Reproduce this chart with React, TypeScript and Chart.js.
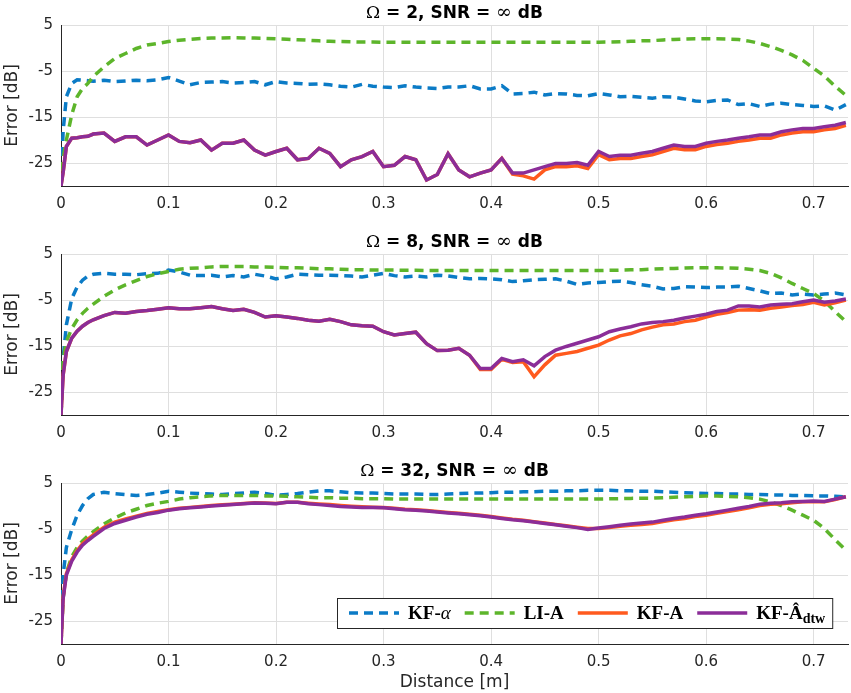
import { useEffect, useRef } from "react";
import { Chart, registerables } from "chart.js";

Chart.register(...registerables);

// distance along the path [m]
const distance = [
  0, 0.002, 0.005, 0.01, 0.015, 0.02, 0.025, 0.03, 0.04, 0.05,
  0.06, 0.07, 0.08, 0.09, 0.1, 0.11, 0.12, 0.13, 0.14, 0.15,
  0.16, 0.17, 0.18, 0.19, 0.2, 0.21, 0.22, 0.23, 0.24, 0.25,
  0.26, 0.27, 0.28, 0.29, 0.3, 0.31, 0.32, 0.33, 0.34, 0.35,
  0.36, 0.37, 0.38, 0.39, 0.4, 0.41, 0.42, 0.43, 0.44, 0.45,
  0.46, 0.47, 0.48, 0.49, 0.5, 0.51, 0.52, 0.53, 0.54, 0.55,
  0.56, 0.57, 0.58, 0.59, 0.6, 0.61, 0.62, 0.63, 0.64, 0.65,
  0.66, 0.67, 0.68, 0.69, 0.7, 0.71, 0.72, 0.73
];

const xTicks = [0, 0.1, 0.2, 0.3, 0.4, 0.5, 0.6, 0.7];
const yTicks = [-25, -15, -5, 5];

// Omega = 2
const kfAlpha2 = [
  -30, -18, -10.6, -7.7, -6.9, -7.0, -7.1, -7.2, -7.0, -7.3,
  -7.2, -7.0, -7.1, -6.9, -6.4, -7.2, -8.0, -7.5, -7.4, -7.3,
  -7.6, -7.5, -7.3, -8.0, -7.3, -7.6, -7.7, -7.9, -7.8, -8.0,
  -8.3, -8.5, -7.9, -8.3, -8.5, -8.6, -8.2, -8.5, -8.7, -8.8,
  -8.5, -8.5, -8.2, -8.9, -8.9, -8.2, -10.0, -9.9, -9.6, -10.2,
  -9.9, -10.0, -10.3, -10.4, -9.9, -10.2, -10.6, -10.5, -10.7, -10.9,
  -10.6, -10.7, -11.1, -11.5, -11.7, -11.4, -11.3, -12.3, -12.1, -12.7,
  -12.2, -12.0, -12.3, -12.5, -12.7, -12.6, -13.5, -12.3
];
const liA2 = [
  -30, -24, -20, -14.5, -10.6, -8.8, -7.7, -6.2, -4.1, -2.3,
  -1.2, -0.1, 0.65, 1.0, 1.4, 1.7, 1.9, 2.05, 2.15, 2.2,
  2.25, 2.2, 2.15, 2.1, 2.0, 1.9, 1.8, 1.7, 1.55, 1.45,
  1.4, 1.35, 1.3, 1.3, 1.25, 1.25, 1.25, 1.25, 1.25, 1.25,
  1.25, 1.25, 1.25, 1.25, 1.25, 1.25, 1.25, 1.25, 1.25, 1.25,
  1.25, 1.25, 1.25, 1.25, 1.25, 1.3, 1.35, 1.45, 1.55, 1.6,
  1.75, 1.85, 1.95, 2.0, 2.0, 2.0, 1.95, 1.85, 1.5, 1.0,
  0.3, -0.5, -1.5, -2.7, -4.4, -6.1, -8.3, -10.3
];
const kfA2 = [
  -30, -27, -21.4, -19.6, -19.5, -19.3, -19.2, -18.7, -18.5, -20.3,
  -19.3, -19.3, -21.1, -20.0, -18.9, -20.3, -20.6, -20.0, -22.2, -20.7,
  -20.7, -20.0, -22.2, -23.3, -22.5, -21.8, -24.3, -24.0, -21.8, -22.9,
  -25.8, -24.3, -23.6, -22.5, -25.8, -25.5, -23.6, -24.3, -28.7, -27.5,
  -23.0, -26.5, -28.0, -27.2, -26.5, -24.0, -27.4, -27.8, -28.5, -26.5,
  -25.8, -25.8, -25.6, -26.2, -23.2, -24.3, -24.0, -24.0, -23.6, -23.2,
  -22.5, -21.8, -22.1, -22.1, -21.4, -21.0, -20.7, -20.3, -20.0, -19.6,
  -19.6, -18.9, -18.5, -18.2, -18.2, -17.8, -17.5, -16.8
];
const kfAdtw2 = [
  -30, -27, -21.4, -19.6, -19.5, -19.3, -19.2, -18.7, -18.5, -20.3,
  -19.3, -19.3, -21.1, -20.0, -18.9, -20.3, -20.6, -20.0, -22.2, -20.7,
  -20.7, -20.0, -22.2, -23.3, -22.5, -21.8, -24.3, -24.0, -21.8, -22.9,
  -25.8, -24.3, -23.6, -22.5, -25.8, -25.5, -23.6, -24.3, -28.7, -27.5,
  -23.0, -26.5, -28.0, -27.2, -26.5, -24.0, -27.2, -27.2, -26.5, -25.8,
  -25.1, -25.1, -24.9, -25.5, -22.5, -23.6, -23.3, -23.3, -22.9, -22.5,
  -21.8, -21.1, -21.4, -21.4, -20.7, -20.3, -20.0, -19.6, -19.3, -18.9,
  -18.9, -18.2, -17.8, -17.5, -17.5, -17.1, -16.8, -16.2
];

// Omega = 8
const kfAlpha8 = [
  -30, -17.7, -10.4, -4.7, -2.2, -0.7, 0.2, 0.6, 0.8, 0.6,
  0.6, 0.5, 0.7, 0.8, 1.5, 1.1, 0.4, 0.3, 0.4, 0.0,
  0.3, 0.0, 0.6, 0.2, -0.4, 0.0, 0.6, 0.5, 0.4, 0.4,
  0.3, 0.2, 0.0, 0.4, 0.8, 0.3, 0.0, 0.2, 0.0, 0.4,
  0.2, -0.1, -0.4, -0.3, -0.4, -0.6, -1.0, -0.8, -0.6, -0.5,
  -0.4, -0.9, -1.6, -1.3, -1.2, -1.0, -0.9, -1.2, -1.7, -2.0,
  -2.6, -2.5, -2.1, -2.2, -2.3, -2.2, -2.2, -2.0, -2.5, -3.0,
  -3.6, -3.5, -3.9, -3.7, -3.9, -3.7, -3.5, -3.9
];
const liA8 = [
  -30, -18, -14.0, -11.2, -9.3, -7.9, -6.8, -5.9, -4.2, -2.8,
  -1.7, -0.8, 0.1, 0.7, 1.2, 1.7, 1.9, 2.0, 2.2, 2.3,
  2.3, 2.3, 2.2, 2.2, 2.1, 2.0, 2.0, 1.9, 1.8, 1.8,
  1.7, 1.6, 1.6, 1.5, 1.5, 1.5, 1.45, 1.45, 1.4, 1.4,
  1.4, 1.4, 1.4, 1.4, 1.4, 1.4, 1.4, 1.4, 1.4, 1.4,
  1.4, 1.4, 1.4, 1.4, 1.4, 1.45, 1.5, 1.55, 1.6, 1.7,
  1.8, 1.85, 1.95, 2.0, 2.0, 2.0, 1.95, 1.9, 1.7, 1.4,
  0.8, -0.2, -1.4, -2.5, -3.6, -5.2, -7.5, -9.7
];
const kfA8 = [
  -30, -21.3, -16.2, -13.3, -11.8, -10.7, -9.9, -9.3, -8.4, -7.7,
  -7.9, -7.5, -7.3, -7.0, -6.7, -6.9, -6.9, -6.7, -6.4, -6.9,
  -7.3, -7.0, -7.7, -8.7, -8.4, -8.7, -9.0, -9.4, -9.6, -9.2,
  -9.7, -10.4, -10.6, -10.7, -11.9, -12.6, -12.3, -12.0, -14.5, -16.0,
  -15.9, -15.5, -17.0, -20.1, -20.1, -17.9, -18.6, -18.4, -21.7, -19.1,
  -17.0, -16.6, -16.2, -15.5, -14.8, -13.7, -12.8, -12.3, -11.5, -10.9,
  -10.4, -10.2, -9.7, -9.4, -8.7, -8.1, -7.7, -7.2, -7.1, -7.2,
  -6.8, -6.5, -6.2, -6.0, -5.5, -6.1, -5.6, -5.0
];
const kfAdtw8 = [
  -30, -21.3, -16.2, -13.3, -11.8, -10.7, -9.9, -9.3, -8.4, -7.7,
  -7.9, -7.5, -7.3, -7.0, -6.7, -6.9, -6.9, -6.7, -6.4, -6.9,
  -7.3, -7.0, -7.7, -8.7, -8.4, -8.7, -9.0, -9.4, -9.6, -9.2,
  -9.7, -10.4, -10.6, -10.7, -11.9, -12.6, -12.3, -12.0, -14.5, -16.0,
  -15.9, -15.5, -17.0, -19.9, -19.9, -17.7, -18.4, -18.0, -19.3, -17.3,
  -15.9, -15.1, -14.4, -13.7, -13.0, -11.9, -11.3, -10.8, -10.2, -9.9,
  -9.7, -9.4, -8.9, -8.5, -8.1, -7.5, -7.2, -6.3, -6.3, -6.5,
  -6.1, -5.9, -5.8, -5.4, -5.0, -5.5, -5.2, -4.8
];

// Omega = 32
const kfAlpha32 = [
  -30, -15, -9.0, -5.1, -2.0, 0.1, 1.6, 2.5, 3.0, 2.7,
  2.5, 2.3, 2.5, 2.8, 3.2, 3.0, 2.8, 2.7, 2.6, 2.5,
  2.7, 2.8, 3.0, 2.7, 2.3, 2.5, 2.7, 3.0, 3.3, 3.3,
  3.1, 2.9, 2.8, 2.8, 2.7, 2.6, 2.6, 2.6, 2.5, 2.5,
  2.6, 2.7, 2.8, 2.8, 2.9, 3.0, 3.0, 3.1, 3.1, 3.2,
  3.2, 3.3, 3.3, 3.4, 3.4, 3.4, 3.3, 3.3, 3.2, 3.2,
  3.1, 3.0, 2.9, 2.8, 2.7, 2.7, 2.6, 2.6, 2.5, 2.5,
  2.4, 2.4, 2.3, 2.3, 2.2, 2.2, 2.1, 2.0
];
const liA32 = [
  -30, -20, -14.5, -11.0, -9.0, -7.6, -6.5, -5.6, -3.9, -2.6,
  -1.5, -0.7, 0.1, 0.6, 1.0, 1.5, 1.8, 2.0, 2.2, 2.3,
  2.3, 2.3, 2.3, 2.2, 2.2, 2.1, 2.0, 1.9, 1.8, 1.8,
  1.7, 1.7, 1.6, 1.6, 1.6, 1.5, 1.5, 1.5, 1.5, 1.5,
  1.5, 1.5, 1.5, 1.5, 1.5, 1.5, 1.5, 1.5, 1.5, 1.5,
  1.5, 1.5, 1.5, 1.5, 1.5, 1.55, 1.6, 1.65, 1.7, 1.7,
  1.8, 1.9, 2.0, 2.1, 2.2, 2.2, 2.1, 2.0, 1.8, 1.5,
  0.9, 0.1, -0.9, -2.0, -3.1, -4.9, -7.3, -9.6
];
const kfA32 = [
  -30, -19.8, -14.7, -11.7, -9.7, -8.2, -7.2, -6.3, -4.6, -3.5,
  -2.8, -2.2, -1.6, -1.2, -0.8, -0.5, -0.3, -0.1, 0.1, 0.25,
  0.4, 0.55, 0.7, 0.65, 0.55, 0.8, 0.8, 0.6, 0.45, 0.3,
  0.1, -0.05, -0.15, -0.25, -0.3, -0.5, -0.7, -0.8, -1.0, -1.2,
  -1.4, -1.6, -1.8, -2.0, -2.3, -2.6, -2.9, -3.1, -3.4, -3.7,
  -4.0, -4.3, -4.6, -4.9, -4.9, -4.7, -4.4, -4.2, -4.0, -3.8,
  -3.4, -3.0, -2.7, -2.3, -2.0, -1.6, -1.2, -0.8, -0.4, 0.1,
  0.4, 0.5, 0.7, 0.9, 0.9, 0.9, 1.4, 2.0
];
const kfAdtw32 = [
  -30, -20.1, -15.0, -12.0, -10.0, -8.5, -7.5, -6.6, -4.9, -3.8,
  -3.1, -2.4, -1.8, -1.4, -0.9, -0.6, -0.4, -0.2, 0.0, 0.15,
  0.35, 0.5, 0.65, 0.6, 0.5, 0.8, 0.8, 0.5, 0.3, 0.1,
  -0.1, -0.2, -0.3, -0.35, -0.4, -0.6, -0.8, -0.9, -1.1, -1.3,
  -1.5, -1.7, -1.9, -2.1, -2.4, -2.7, -3.0, -3.2, -3.5, -3.8,
  -4.1, -4.4, -4.7, -5.1, -4.8, -4.5, -4.2, -3.9, -3.7, -3.5,
  -3.1, -2.7, -2.4, -2.0, -1.7, -1.3, -0.9, -0.5, -0.1, 0.4,
  0.6, 0.7, 0.9, 1.0, 1.1, 1.0, 1.5, 2.0
];

const seriesNames = ["KF-α", "LI-A", "KF-A", "KF-Âdtw"];
const seriesColors = ["#0B7BC6", "#5DB52B", "#FF5A1E", "#8B2D98"];
const seriesDashed = [true, true, false, false];

// legend label pieces (LaTeX-like)
const legendParts = [
  [{ t: "KF-", f: "bold 19px 'Liberation Serif'", dy: 0 }, { t: "α", f: "italic 19px 'Liberation Serif'", dy: 0 }],
  [{ t: "LI-A", f: "bold 19px 'Liberation Serif'", dy: 0 }],
  [{ t: "KF-A", f: "bold 19px 'Liberation Serif'", dy: 0 }],
  [{ t: "KF-Â", f: "bold 19px 'Liberation Serif'", dy: 0 }, { t: "dtw", f: "bold 14px 'Liberation Serif'", dy: 5 }]
];

const TEXT = "#262626";

const titlePlugin = {
  id: "panelTitle",
  afterDraw(chart: any, _args: any, opts: any) {
    const { ctx, chartArea } = chart;
    const parts = [
      { t: "Ω", f: "17px 'DejaVu Serif'" },
      { t: ` = ${opts.omega}, SNR = `, f: "bold 17px 'DejaVu Sans'" },
      { t: "∞", f: "19px 'DejaVu Serif'" },
      { t: " dB", f: "bold 17px 'DejaVu Sans'" }
    ];
    ctx.save();
    ctx.fillStyle = "#000";
    ctx.textBaseline = "alphabetic";
    ctx.textAlign = "left";
    let total = 0;
    parts.forEach((p) => {
      ctx.font = p.f;
      total += ctx.measureText(p.t).width;
    });
    let x = (chartArea.left + chartArea.right) / 2 - total / 2;
    const y = chartArea.top - 7;
    parts.forEach((p) => {
      ctx.font = p.f;
      ctx.fillText(p.t, x, y);
      x += ctx.measureText(p.t).width;
    });
    ctx.restore();
  }
};

const legendPlugin = {
  id: "boxLegend",
  afterDraw(chart: any) {
    const { ctx, chartArea } = chart;
    const datasets = chart.data.datasets;
    const left = chartArea.left + 276;
    const top = chartArea.top + 115;
    const h = 30;
    const cy = top + h / 2;

    ctx.save();
    const widths = legendParts.map((parts) =>
      parts.reduce((w, p) => {
        ctx.font = p.f;
        return w + ctx.measureText(p.t).width;
      }, 0)
    );
    let right = left + 12;
    widths.forEach((w, i) => {
      right += 50 + 9 + w + (i < widths.length - 1 ? 14 : 7);
    });

    ctx.fillStyle = "#fff";
    ctx.fillRect(left, top, right - left, h);
    ctx.strokeStyle = TEXT;
    ctx.lineWidth = 1;
    ctx.strokeRect(left + 0.5, top + 0.5, right - left, h);

    let x = left + 12;
    datasets.forEach((ds: any, i: number) => {
      ctx.beginPath();
      ctx.strokeStyle = ds.borderColor;
      ctx.lineWidth = ds.borderWidth;
      ctx.setLineDash(ds.borderDash || []);
      ctx.moveTo(x, cy);
      ctx.lineTo(x + 50, cy);
      ctx.stroke();
      ctx.setLineDash([]);
      x += 59;
      ctx.fillStyle = "#000";
      ctx.textBaseline = "middle";
      legendParts[i].forEach((p) => {
        ctx.font = p.f;
        ctx.fillText(p.t, x, cy + 1 + p.dy);
        x += ctx.measureText(p.t).width;
      });
      x += 14;
    });
    ctx.restore();
  }
};

type PanelProps = {
  omega: number;
  series: number[][];
  top: number;
  height: number;
  areaTop: number;
  areaBottom: number;
  last: boolean;
};

function Panel({ omega, series, top, height, areaTop, areaBottom, last }: PanelProps) {
  const chartRef = useRef<HTMLCanvasElement | null>(null);
  const chartInstance = useRef<Chart | null>(null);

  useEffect(() => {
    if (!chartRef.current) return;
    if (chartInstance.current) chartInstance.current.destroy();

    const datasets = series.map((values, i) => ({
      label: seriesNames[i],
      data: distance.map((x, k) => ({ x, y: values[k] })),
      borderColor: seriesColors[i],
      backgroundColor: seriesColors[i],
      borderWidth: 3.5,
      borderDash: seriesDashed[i] ? [9, 6] : [],
      pointRadius: 0,
      fill: false,
      tension: 0,
      order: series.length - i
    }));

    chartInstance.current = new Chart(chartRef.current, {
      type: "line",
      data: { datasets },
      options: {
        responsive: true,
        maintainAspectRatio: false,
        animation: false,
        events: [],
        layout: { padding: { top: areaTop, right: 3, left: 0, bottom: 0 } },
        plugins: {
          legend: { display: false },
          tooltip: { enabled: false },
          title: { display: false },
          panelTitle: { omega }
        } as any,
        scales: {
          x: {
            type: "linear",
            min: 0,
            max: 0.732,
            afterBuildTicks: (scale: any) => {
              scale.ticks = xTicks.map((v) => ({ value: v }));
            },
            afterFit: (scale: any) => {
              scale.height = height - areaBottom;
            },
            ticks: {
              color: TEXT,
              font: { family: "'DejaVu Sans'", size: 15 },
              padding: 9,
              maxRotation: 0,
              callback: (v: any) => String(v)
            },
            grid: { color: "#DFDFDF", drawTicks: false, lineWidth: 1 },
            border: { color: TEXT, width: 1 },
            title: {
              display: last,
              text: "Distance [m]",
              color: TEXT,
              font: { family: "'DejaVu Sans'", size: 17 },
              padding: { top: 0, bottom: 0 }
            }
          },
          y: {
            type: "linear",
            min: -30,
            max: 5,
            afterBuildTicks: (scale: any) => {
              scale.ticks = yTicks.map((v) => ({ value: v }));
            },
            afterFit: (scale: any) => {
              scale.width = 61;
            },
            ticks: {
              color: TEXT,
              font: { family: "'DejaVu Sans'", size: 15 },
              padding: 8,
              callback: (v: any) => String(v)
            },
            grid: { color: "#DFDFDF", drawTicks: false, lineWidth: 1 },
            border: { color: TEXT, width: 1 },
            title: {
              display: true,
              text: "Error [dB]",
              color: TEXT,
              font: { family: "'DejaVu Sans'", size: 17 },
              padding: { top: 2, bottom: 0 }
            }
          }
        }
      },
      plugins: last ? [titlePlugin, legendPlugin] : [titlePlugin]
    });

    return () => {
      if (chartInstance.current) {
        chartInstance.current.destroy();
        chartInstance.current = null;
      }
    };
  }, [omega, series, height, areaTop, areaBottom, last]);

  return (
    <div style={{ position: "absolute", left: 0, top, width: 851, height }}>
      <canvas ref={chartRef} />
    </div>
  );
}

export default function App() {
  return (
    <div style={{ position: "absolute", left: 0, top: 0, width: 851, height: 693, background: "#fff" }}>
      <Panel omega={2} series={[kfAlpha2, liA2, kfA2, kfAdtw2]} top={0} height={228} areaTop={25} areaBottom={186} last={false} />
      <Panel omega={8} series={[kfAlpha8, liA8, kfA8, kfAdtw8]} top={228} height={227} areaTop={26} areaBottom={187} last={false} />
      <Panel omega={32} series={[kfAlpha32, liA32, kfA32, kfAdtw32]} top={455} height={238} areaTop={28} areaBottom={189} last={true} />
    </div>
  );
}
